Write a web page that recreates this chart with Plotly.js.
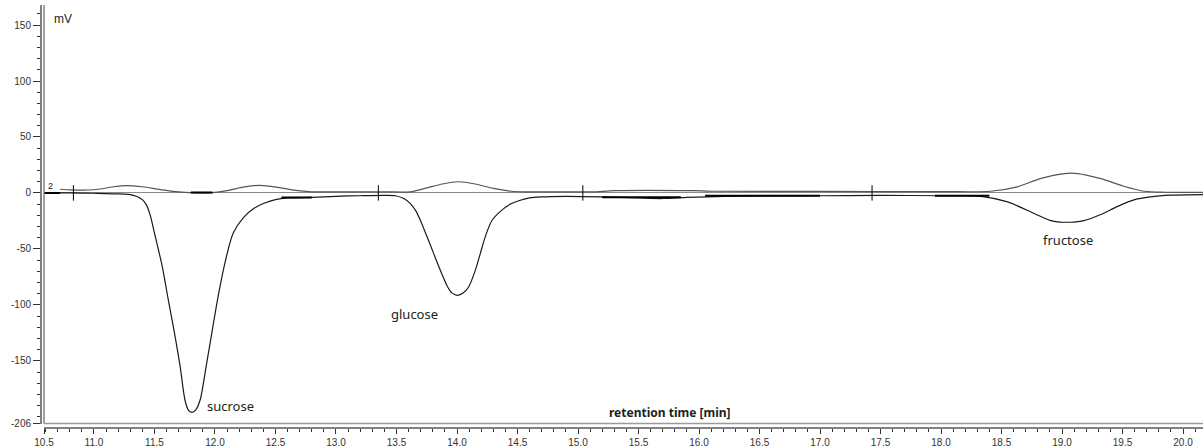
<!DOCTYPE html>
<html>
<head>
<meta charset="utf-8">
<script src="https://cdn.plot.ly/plotly-3.0.1.min.js"></script>
<style>html,body{margin:0;padding:0;background:#fff;}#chart{width:1203px;height:446px;}</style>
</head>
<body>
<div id="chart"></div>
<script>
// Retention time (min) and signal (mV) for the lower chromatogram (negative peaks)
const lowerTime = [10.587,10.8,11.0,11.2,11.3,11.35,11.4,11.43,11.465,11.5,11.565,11.615,11.665,11.712,11.752,11.78,11.81,11.84,11.877,11.927,11.974,12.02,12.075,12.15,12.235,12.32,12.4,12.5,12.6,12.8,13.0,13.2,13.4,13.49,13.56,13.615,13.66,13.697,13.752,13.807,13.862,13.923,13.96,14.005,14.05,14.096,14.152,14.193,14.234,14.29,14.386,14.45,14.524,14.6,14.69,14.9,15.2,15.5,15.7,15.9,16.2,17.0,17.5,18.0,18.33,18.55,18.77,18.9,18.98,19.04,19.1,19.18,19.32,19.46,19.6,19.73,19.9,20.165];
const lowerSignal = [0,0,-0.3,-0.8,-1.5,-3,-6,-10,-20,-36,-66,-96,-125,-155,-185,-194,-196,-194,-185,-155,-125,-96,-66,-36,-22,-14,-9.5,-6,-4.5,-4,-3,-2.5,-2.2,-2.5,-5,-9.5,-16,-24.4,-39,-54,-69,-84,-89.5,-91.5,-89.5,-84,-69,-54,-39,-24.4,-14,-9.5,-6.5,-4.5,-3.6,-3,-3.5,-4.5,-5,-4,-3,-2.5,-2.2,-2.5,-3,-8,-18.4,-24.5,-26,-26.2,-26,-24.8,-19.3,-12,-6,-3.5,-2,-1.5];

// Upper chromatogram (small positive peaks)
const upperTime = [10.72,10.8,10.95,11.05,11.15,11.27,11.4,11.55,11.7,11.8,11.98,12.1,12.22,12.37,12.52,12.65,12.8,13.0,13.4,13.615,13.75,13.88,14.01,14.15,14.3,14.45,14.55,15.0,15.15,15.3,15.95,16.1,17.0,18.0,18.41,18.63,18.82,19.02,19.13,19.32,19.51,19.68,19.85,20.165];
const upperSignal = [3.3,2.8,2.6,3.5,5.3,6.5,5.5,3,1,0.3,0.3,2,5,6.8,5,2.5,1,1,1,1,4.5,8,10,8,4,1.5,1,1,1,2,2,1.5,1.3,1.2,1.5,5.4,12.8,17.3,17.3,12.8,6,1.5,0.6,0.5];

// Integration baseline segments (null separates segments)
const baseTime = [10.587,10.72,null,11.8,11.98,null,12.55,12.8,null,15.2,15.85,null,16.05,17.0,null,17.95,18.4];
const baseSignal = [0,0,null,0.3,0.3,null,-4,-4,null,-3.8,-3.8,null,-2.6,-2.6,null,-2.6,-2.6];

// Peak delimiter marks
const markTime = [10.83,13.35,15.04,17.43];
const markSignal = [0,0,0,0];

// Peak names and positions
const peakNames = ['sucrose','glucose','fructose'];
const peakLabelX = [11.92,13.65,19.05];
const peakLabelY = [-190,-108,-42];

// Axis ticks
const xTickVals = [10.587,11.0,11.5,12.0,12.5,13.0,13.5,14.0,14.5,15.0,15.5,16.0,16.5,17.0,17.5,18.0,18.5,19.0,19.5,20.0];
const xTickText = ['10.5','11.0','11.5','12.0','12.5','13.0','13.5','14.0','14.5','15.0','15.5','16.0','16.5','17.0','17.5','18.0','18.5','19.0','19.5','20.0'];
const yTickVals = [-206,-150,-100,-50,0,50,100,150];
const yTickText = ['-206','-150','-100','-50','0','50','100','150'];

const xRange = [10.587, 20.165];
const yRange = [-206, 167.9];

const W = 1203, H = 446;
const mL = 40, mR = 0, mT = 5, mB = 19;
const pw = W - mL - mR, ph = H - mT - mB;
const xDom0 = 4 / pw;
const yDom0 = 3.5 / ph;

const traces = [
  {x: upperTime, y: upperSignal, type: 'scatter', mode: 'lines',
   line: {color: '#555', width: 1.2, shape: 'spline', smoothing: 0.8}, hoverinfo: 'skip'},
  {x: lowerTime, y: lowerSignal, type: 'scatter', mode: 'lines',
   line: {color: '#1a1a1a', width: 1.2, shape: 'spline', smoothing: 0.8}, hoverinfo: 'skip'},
  {x: baseTime, y: baseSignal, type: 'scatter', mode: 'lines',
   line: {color: '#000', width: 2}, hoverinfo: 'skip'},
  {x: markTime, y: markSignal, type: 'scatter', mode: 'markers',
   marker: {symbol: 'line-ns-open', size: 11, color: '#000', line: {color: '#000', width: 1}}, hoverinfo: 'skip'}
];

const annotations = peakNames.map((n, i) => ({
  x: peakLabelX[i], y: peakLabelY[i], xref: 'x', yref: 'y', text: n, showarrow: false,
  xanchor: i === 0 ? 'left' : 'center', font: {family: 'Noto Sans', size: 13, color: '#222'}
}));
annotations.push({x: 0.0105, y: 1, xref: 'paper', yref: 'paper', yanchor: 'top', xanchor: 'left', yshift: -5,
  text: 'mV', showarrow: false, font: {family: 'Liberation Sans', size: 12, color: '#222'}});
annotations.push({x: 15.76, y: -196, xref: 'x', yref: 'y', text: '<b>retention time [min]</b>', showarrow: false,
  xanchor: 'center', font: {family: 'Noto Sans', size: 12, color: '#222'}});
annotations.push({x: 10.64, y: 6, xref: 'x', yref: 'y', text: '2', showarrow: false,
  font: {family: 'Liberation Sans', size: 9, color: '#222'}});

const layout = {
  width: W, height: H,
  margin: {l: mL, r: mR, t: mT, b: mB, pad: 0},
  paper_bgcolor: '#fff', plot_bgcolor: '#fff',
  showlegend: false,
  xaxis: {
    domain: [xDom0, 1], anchor: 'free', position: 0,
    range: xRange, showgrid: false, zeroline: false,
    showline: true, linecolor: '#808080', linewidth: 1.5,
    ticks: 'outside', ticklen: 5, tickcolor: '#333', tickwidth: 1,
    tickmode: 'array', tickvals: xTickVals, ticktext: xTickText,
    tickfont: {family: 'Liberation Sans', size: 10, color: '#333'},
    minor: {dtick: 0.1, tick0: 10.0, ticks: 'outside', ticklen: 3, tickcolor: '#333', showgrid: false}
  },
  yaxis: {
    domain: [yDom0, 1], anchor: 'free', position: 0,
    range: yRange, showgrid: false,
    zeroline: true, zerolinecolor: '#8a8a8a', zerolinewidth: 1,
    showline: true, linecolor: '#808080', linewidth: 1.5,
    ticks: 'outside', ticklen: 7, tickcolor: '#333', tickwidth: 1,
    tickmode: 'array', tickvals: yTickVals, ticktext: yTickText,
    tickfont: {family: 'Liberation Sans', size: 10, color: '#333'},
    minor: {dtick: 10, tick0: 0, ticks: 'outside', ticklen: 3, tickcolor: '#333', showgrid: false}
  },
  shapes: [
    {type: 'line', xref: 'paper', yref: 'paper', x0: xDom0, x1: xDom0, y0: yDom0, y1: 1,
     line: {color: '#808080', width: 1.5}},
    {type: 'line', xref: 'paper', yref: 'paper', x0: xDom0, x1: 1, y0: yDom0, y1: yDom0,
     line: {color: '#9a9a9a', width: 1.5}}
  ],
  annotations: annotations
};

Plotly.newPlot('chart', traces, layout, {staticPlot: true, displayModeBar: false});
</script>
</body>
</html>
